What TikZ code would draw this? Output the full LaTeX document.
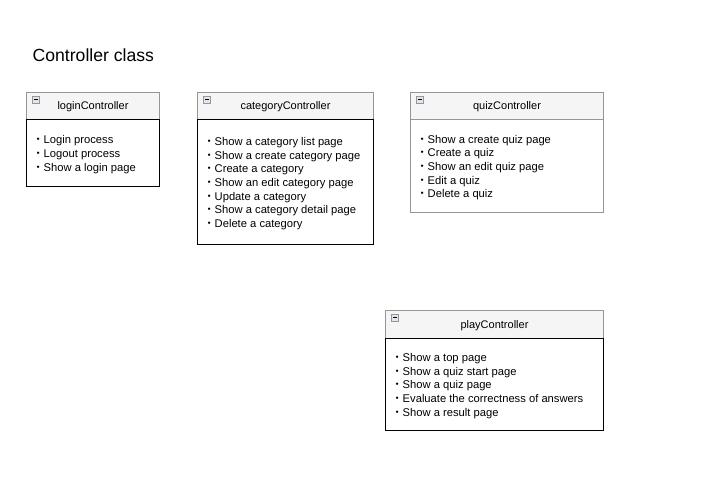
\documentclass[tikz,border=0pt]{standalone}
\usepackage{fontspec}
\setmainfont{Liberation Sans}
\newfontfamily\cjk{Noto Sans CJK JP}
\definecolor{hdrfill}{RGB}{245,245,245}
\definecolor{hdrline}{RGB}{150,150,150}
\definecolor{iconfill}{RGB}{225,230,238}
\newcommand{\bu}{{\cjk ・}}
\begin{document}
\begin{tikzpicture}[x=1pt,y=-1pt,
  hdr/.style={draw=hdrline, fill=hdrfill, line width=1pt, inner sep=0pt, anchor=north west,
    text height=8.2pt, text depth=1pt, font=\fontsize{11}{13}\selectfont},
  bodybox/.style={draw=black, fill=white, line width=1pt, inner sep=0pt, anchor=north west},
  greybody/.style={bodybox, draw=hdrline},
  items/.style={anchor=west, inner sep=0pt, align=left, yshift=-1.5pt, font=\fontsize{11.2}{13.65}\selectfont},
  icon/.style={draw=hdrline, fill=iconfill, line width=0.8pt, minimum size=7pt, inner sep=0pt, anchor=north west},
  minus/.style={draw=black, line width=1pt},
  title/.style={anchor=base west, inner sep=0pt, font=\fontsize{17.6}{22}\selectfont}]
\useasboundingbox (0,0) rectangle (715,487);
\fill[white] (0,0) rectangle (715,487);

\node[title] (ttl) at (32.5,62) {Controller class};

% loginController
\node[hdr, minimum width=133, minimum height=27] (loginH) at (26,92) {loginController};
\node[bodybox, minimum width=133, minimum height=67] (loginB) at (26,119) {};
\node[items] (loginT) at ([xshift=6.3]loginB.west) {\bu Login process\\ \bu Logout process\\ \bu Show a login page};
\node[icon] (loginI) at ([xshift=6,yshift=-3.5]loginH.north west) {};
\draw[minus] ([xshift=1.8]loginI.center) -- ([xshift=-1.8]loginI.center);

% categoryController
\node[hdr, minimum width=176, minimum height=27] (catH) at (197,92) {categoryController};
\node[bodybox, minimum width=176, minimum height=125] (catB) at (197,119) {};
\node[items] (catT) at ([xshift=6.3]catB.west) {\bu Show a category list page\\ \bu Show a create category page\\ \bu Create a category\\ \bu Show an edit category page\\ \bu Update a category\\ \bu Show a category detail page\\ \bu Delete a category};
\node[icon] (catI) at ([xshift=6,yshift=-3.5]catH.north west) {};
\draw[minus] ([xshift=1.8]catI.center) -- ([xshift=-1.8]catI.center);

% quizController
\node[hdr, minimum width=193, minimum height=27] (quizH) at (410,92) {quizController};
\node[greybody, minimum width=193, minimum height=93] (quizB) at (410,119) {};
\node[items] (quizT) at ([xshift=6.3]quizB.west) {\bu Show a create quiz page\\ \bu Create a quiz\\ \bu Show an edit quiz page\\ \bu Edit a quiz\\ \bu Delete a quiz};
\node[icon] (quizI) at ([xshift=6,yshift=-3.5]quizH.north west) {};
\draw[minus] ([xshift=1.8]quizI.center) -- ([xshift=-1.8]quizI.center);

% playController
\node[hdr, minimum width=218, minimum height=28] (playH) at (385,310) {playController};
\node[bodybox, minimum width=218, minimum height=92] (playB) at (385,338) {};
\node[items] (playT) at ([xshift=6.3]playB.west) {\bu Show a top page\\ \bu Show a quiz start page\\ \bu Show a quiz page\\ \bu Evaluate the correctness of answers\\ \bu Show a result page};
\node[icon] (playI) at ([xshift=6,yshift=-3.5]playH.north west) {};
\draw[minus] ([xshift=1.8]playI.center) -- ([xshift=-1.8]playI.center);
\end{tikzpicture}
\end{document}
